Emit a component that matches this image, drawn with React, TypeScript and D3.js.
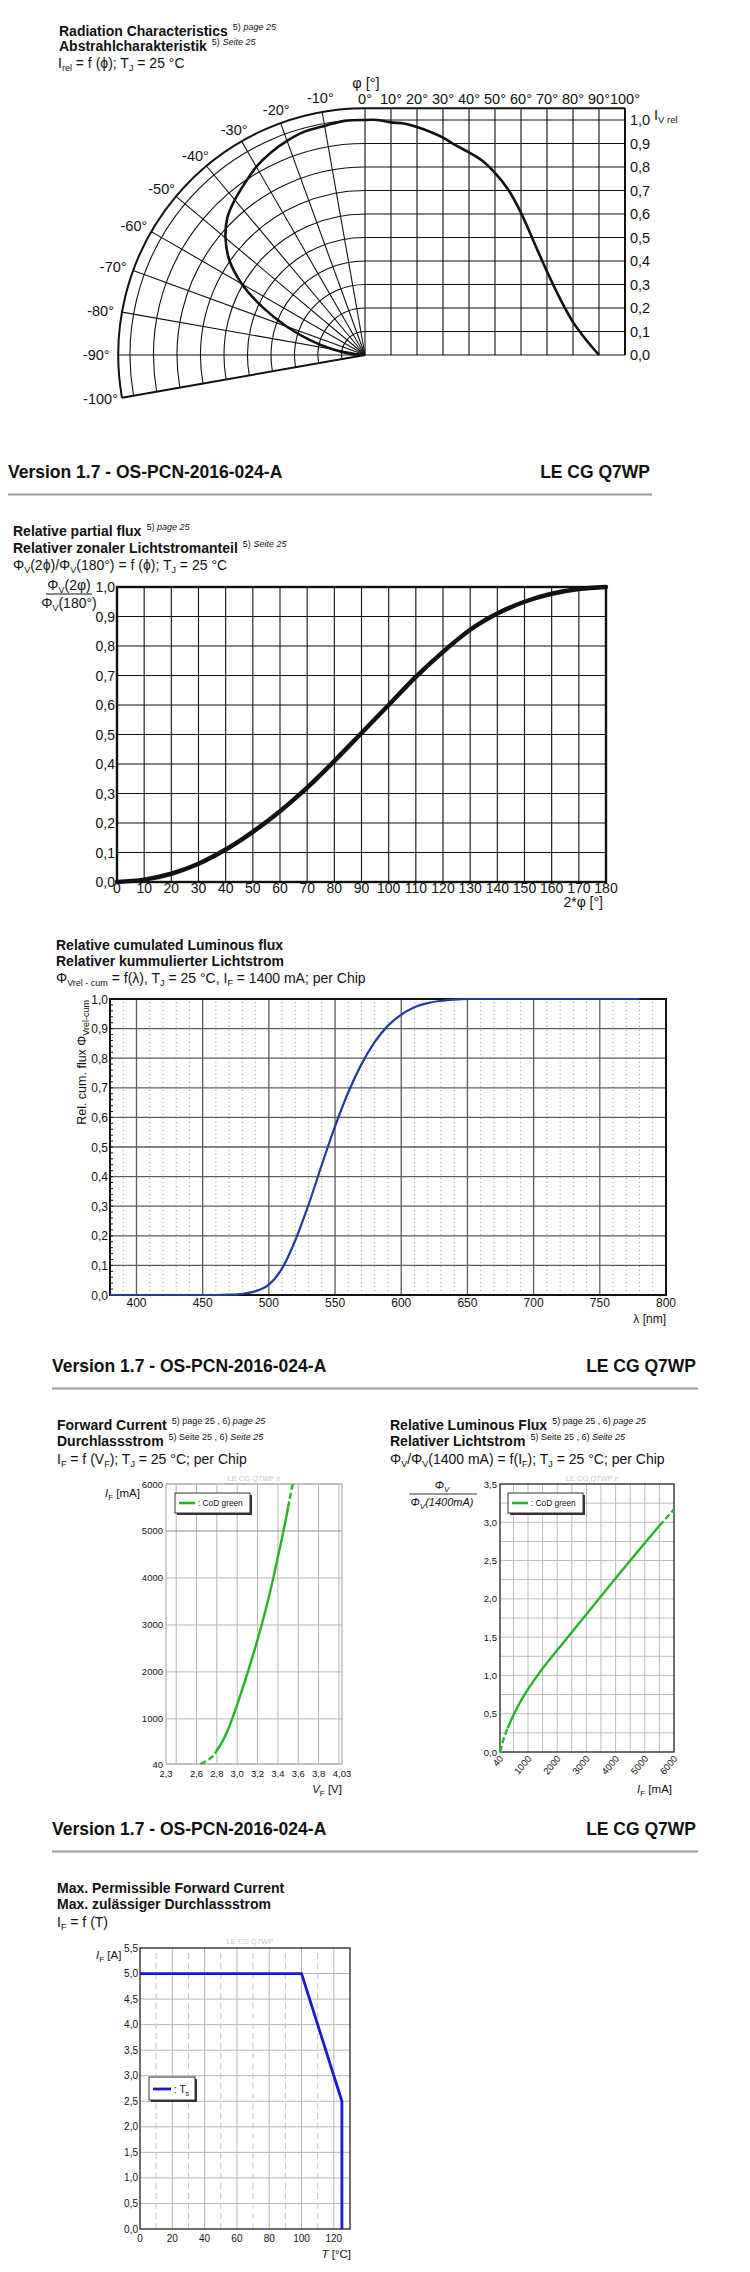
import * as d3 from "d3";

const SANS = "'Liberation Sans', Arial, Helvetica, sans-serif";
const NARROW = "'Liberation Sans Narrow', 'Arial Narrow', 'Liberation Sans', sans-serif";

// Radiation characteristics (same data drawn polar on the left, cartesian on the right)
const radAngle = [0, 5, 10, 15, 20, 25, 30, 35, 40, 45, 50, 55, 60, 65, 70, 75, 80, 85, 90];
const radIntensity = [1.0, 1.0, 0.99, 0.985, 0.97, 0.95, 0.925, 0.892, 0.862, 0.828, 0.775, 0.705, 0.605, 0.48, 0.355, 0.24, 0.14, 0.065, 0.0];
const radAngleTicks = [0, 10, 20, 30, 40, 50, 60, 70, 80, 90, 100];
const radPolarTicks = [10, 20, 30, 40, 50, 60, 70, 80, 90, 100];
const radLevels = [0, 0.1, 0.2, 0.3, 0.4, 0.5, 0.6, 0.7, 0.8, 0.9, 1.0];
const radOuter = 1.05;

// Relative partial flux
const fluxAngle = [0, 10, 20, 30, 40, 50, 60, 70, 80, 90, 100, 110, 120, 130, 140, 150, 160, 170, 180];
const fluxRatio = [0, 0.008, 0.028, 0.062, 0.11, 0.17, 0.24, 0.32, 0.41, 0.505, 0.6, 0.695, 0.78, 0.855, 0.91, 0.95, 0.977, 0.993, 1.0];
const fluxYTicks = [0, 0.1, 0.2, 0.3, 0.4, 0.5, 0.6, 0.7, 0.8, 0.9, 1.0];

// Relative cumulated luminous flux
const cumLambda = [380, 460, 470, 480, 490, 500, 510, 520, 530, 540, 550, 560, 570, 580, 590, 600, 610, 620, 630, 640, 650, 660, 700, 780];
const cumValue = [0, 0, 0.001, 0.004, 0.013, 0.035, 0.09, 0.185, 0.305, 0.44, 0.57, 0.685, 0.78, 0.855, 0.91, 0.947, 0.972, 0.986, 0.994, 0.998, 1, 1, 1, 1];
const cumXTicks = [400, 450, 500, 550, 600, 650, 700, 750, 800];
const cumYTicks = [0, 0.1, 0.2, 0.3, 0.4, 0.5, 0.6, 0.7, 0.8, 0.9, 1.0];

// Forward current
const vfCurrent = [40, 150, 300, 500, 750, 1000, 1500, 2000, 2500, 3000, 3500, 4000, 4500, 5000, 5500, 6000];
const vfVolt = [2.64, 2.73, 2.79, 2.85, 2.905, 2.95, 3.03, 3.105, 3.175, 3.24, 3.3, 3.355, 3.405, 3.455, 3.5, 3.545];
const vfXTicks = [2.3, 2.6, 2.8, 3.0, 3.2, 3.4, 3.6, 3.8, 4.03];
const vfXGrid = [2.4, 2.6, 2.8, 3.0, 3.2, 3.4, 3.6, 3.8, 4.0];
const vfYTicks = [40, 1000, 2000, 3000, 4000, 5000, 6000];

// Relative luminous flux
const lfCurrent = [40, 150, 300, 450, 700, 1000, 1400, 2000, 2500, 3000, 3500, 4000, 4500, 5000, 5500, 6000];
const lfRatio = [0.0, 0.15, 0.31, 0.44, 0.63, 0.82, 1.04, 1.33, 1.565, 1.8, 2.035, 2.27, 2.5, 2.73, 2.955, 3.17];
const lfXTicks = [40, 1000, 2000, 3000, 4000, 5000, 6000];
const lfXGrid = [500, 1000, 1500, 2000, 2500, 3000, 3500, 4000, 4500, 5000, 5500];
const lfYTicks = [0, 0.5, 1.0, 1.5, 2.0, 2.5, 3.0, 3.5];
const lfYGrid = [0.25, 0.5, 0.75, 1.0, 1.25, 1.5, 1.75, 2.0, 2.25, 2.5, 2.75, 3.0, 3.25];

// Max. permissible forward current
const tsTemp = [0, 100, 125, 125];
const tsCurrent = [5.0, 5.0, 2.5, 0];
const tsXTicks = [0, 20, 40, 60, 80, 100, 120];
const tsXDashed = [10, 30, 50, 70, 90, 110];
const tsYTicks = [0, 0.5, 1.0, 1.5, 2.0, 2.5, 3.0, 3.5, 4.0, 4.5, 5.0, 5.5];

const comma1 = (v: number) => d3.format(".1f")(v).replace(".", ",");
const comma2 = (v: number) => String(v).replace(".", ",");

function Sup({ a, b }: { a: string; b: string }) {
  return (
    <tspan dx={5} dy={-6} fontSize={9} fontWeight="normal">
      {a} <tspan fontStyle="italic">{b}</tspan>
    </tspan>
  );
}

function VersionBar({ x0, x1, y }: { x0: number; x1: number; y: number }) {
  return (
    <g fontFamily={SANS} fontWeight="bold" fontSize={17.5} fill="#111">
      <text x={x0} y={y}>Version 1.7 - OS-PCN-2016-024-A</text>
      <text x={x1} y={y} textAnchor="end">LE CG Q7WP</text>
      <line x1={x0} x2={x1 + 2} y1={y + 16.5} y2={y + 16.5} stroke="#9a9a9a" strokeWidth={2} />
    </g>
  );
}

function Radiation() {
  const cx = 365, cy = 355, unit = 235;
  const xs = d3.scaleLinear().domain([0, 100]).range([cx, cx + 260]);
  const ys = d3.scaleLinear().domain([0, 1]).range([cy, cy - unit]);
  const rs = d3.scaleLinear().domain([0, 1]).range([0, unit]);
  const R = rs(radOuter);
  const rad = (a: number) => (a * Math.PI) / 180;
  const polar = (a: number, r: number): [number, number] => [cx - r * Math.sin(rad(a)), cy - r * Math.cos(rad(a))];
  const arcPath = (r: number) => {
    const p = d3.path();
    const [sx, sy] = polar(0, r);
    p.moveTo(sx, sy);
    p.arc(cx, cy, r, -Math.PI / 2, -Math.PI / 2 - rad(100), true);
    return p.toString();
  };
  const polarCurve = d3
    .line<number>()
    .x((d, i) => polar(radAngle[i], rs(d))[0])
    .y((d, i) => polar(radAngle[i], rs(d))[1])
    .curve(d3.curveCatmullRom)(radIntensity);
  const cartCurve = d3
    .line<number>()
    .x((d, i) => xs(radAngle[i]))
    .y((d) => ys(d))
    .curve(d3.curveCatmullRom)(radIntensity);
  const top = cy - R;
  const [ex, ey] = polar(100, R);

  return (
    <g>
      <g fontFamily={SANS} fill="#111">
        <text x={59} y={36} fontWeight="bold" fontSize={14}>
          Radiation Characteristics<Sup a="5)" b="page 25" />
        </text>
        <text x={59} y={51} fontWeight="bold" fontSize={14}>
          Abstrahlcharakteristik<Sup a="5)" b="Seite 25" />
        </text>
        <text x={58} y={68} fontSize={14}>
          I<tspan dy={3} fontSize={9}>rel</tspan>
          <tspan dy={-3}> = f (ϕ); T</tspan>
          <tspan dy={3} fontSize={9}>J</tspan>
          <tspan dy={-3}> = 25 °C</tspan>
        </text>
      </g>
      <g stroke="#111" fill="none" strokeWidth={1.1}>
        {radLevels.slice(1).map((l) => (
          <path key={"a" + l} d={arcPath(rs(l))} />
        ))}
        {radPolarTicks.slice(0, -1).map((a) => {
          const [px, py] = polar(a, R);
          return <line key={"r" + a} x1={cx} y1={cy} x2={px} y2={py} />;
        })}
        {radLevels.map((l) => (
          <line key={"h" + l} x1={cx} x2={xs(100)} y1={ys(l)} y2={ys(l)} />
        ))}
        {radAngleTicks.slice(0, -1).map((a) => (
          <line key={"v" + a} x1={xs(a)} x2={xs(a)} y1={cy} y2={top} />
        ))}
      </g>
      <g stroke="#111" fill="none" strokeWidth={2}>
        <path d={arcPath(R)} />
        <line x1={cx} y1={cy} x2={ex} y2={ey} />
        <line x1={cx} x2={xs(100)} y1={top} y2={top} />
        <line x1={xs(100)} x2={xs(100)} y1={top} y2={cy} />
      </g>
      <path d={polarCurve ?? ""} fill="none" stroke="#111" strokeWidth={2.6} />
      <path d={cartCurve ?? ""} fill="none" stroke="#111" strokeWidth={2.6} />
      <g fontFamily={NARROW} fontSize={14.5} fill="#111">
        <text x={cx + 1} y={88} textAnchor="middle">φ [°]</text>
        {radAngleTicks.map((a) => (
          <text key={"t" + a} x={xs(a)} y={104} textAnchor="middle">{a}°</text>
        ))}
        {radLevels.map((l) => (
          <text key={"l" + l} x={xs(100) + 5} y={ys(l) + 5}>{comma1(l)}</text>
        ))}
        <text x={654} y={120}>
          I<tspan dy={3} fontSize={9.5}>V rel</tspan>
        </text>
        {radPolarTicks.map((a) => {
          const s = Math.sin(rad(a)), c = Math.cos(rad(a));
          const px = cx - (R + 8 + 14 * s) * s;
          const py = cy - (R + 8 + 6 * c) * c + 5;
          return (
            <text key={"p" + a} x={px} y={py} textAnchor="middle">-{a}°</text>
          );
        })}
      </g>
    </g>
  );
}

function PartialFlux() {
  const x = d3.scaleLinear().domain([0, 180]).range([117, 606]);
  const y = d3.scaleLinear().domain([0, 1]).range([882, 587]);
  const curve = d3
    .line<number>()
    .x((d, i) => x(fluxAngle[i]))
    .y((d) => y(d))
    .curve(d3.curveMonotoneX)(fluxRatio);
  return (
    <g>
      <g fontFamily={SANS} fill="#111" fontSize={14}>
        <text x={13} y={536} fontWeight="bold">
          Relative partial flux<Sup a="5)" b="page 25" />
        </text>
        <text x={13} y={553} fontWeight="bold">
          Relativer zonaler Lichtstromanteil<Sup a="5)" b="Seite 25" />
        </text>
        <text x={13} y={570}>
          Φ<tspan dy={3} fontSize={9}>V</tspan>
          <tspan dy={-3}>(2ϕ)/Φ</tspan>
          <tspan dy={3} fontSize={9}>V</tspan>
          <tspan dy={-3}>(180°) = f (ϕ); T</tspan>
          <tspan dy={3} fontSize={9}>J</tspan>
          <tspan dy={-3}> = 25 °C</tspan>
        </text>
      </g>
      <g stroke="#111" strokeWidth={1.1}>
        {fluxAngle.map((a) => (
          <line key={"v" + a} x1={x(a)} x2={x(a)} y1={y(0)} y2={y(1)} />
        ))}
        {fluxYTicks.map((v) => (
          <line key={"h" + v} x1={x(0)} x2={x(180)} y1={y(v)} y2={y(v)} />
        ))}
      </g>
      <rect x={x(0)} y={y(1)} width={x(180) - x(0)} height={y(0) - y(1)} fill="none" stroke="#111" strokeWidth={2.4} />
      <path d={curve ?? ""} fill="none" stroke="#111" strokeWidth={4.5} strokeLinecap="round" />
      <g fontFamily={NARROW} fontSize={14} fill="#111">
        {fluxAngle.map((a) => (
          <text key={"xt" + a} x={x(a)} y={893} textAnchor="middle">{a}</text>
        ))}
        {fluxYTicks.map((v) => (
          <text key={"yt" + v} x={115} y={y(v) + 5} textAnchor="end">{comma1(v)}</text>
        ))}
        <text x={603} y={907} textAnchor="end">2*φ [°]</text>
        <text x={69} y={590} textAnchor="middle">
          Φ<tspan dy={3} fontSize={9}>V</tspan>
          <tspan dy={-3}>(2φ)</tspan>
        </text>
        <line x1={46} x2={92} y1={594} y2={594} stroke="#111" strokeWidth={1} />
        <text x={69} y={608} textAnchor="middle">
          Φ<tspan dy={3} fontSize={9}>V</tspan>
          <tspan dy={-3}>(180°)</tspan>
        </text>
      </g>
    </g>
  );
}

function Cumulated() {
  const x = d3.scaleLinear().domain([380, 800]).range([110, 666]);
  const y = d3.scaleLinear().domain([0, 1]).range([1295, 999]);
  const curve = d3
    .line<number>()
    .x((d, i) => x(cumLambda[i]))
    .y((d) => y(d))
    .curve(d3.curveMonotoneX)(cumValue);
  const minor = d3.range(390, 800, 10).filter((v) => v % 50 !== 0);
  const minorY = d3.range(0.02, 1, 0.02);
  return (
    <g>
      <g fontFamily={SANS} fill="#111" fontSize={14}>
        <text x={56} y={950} fontWeight="bold">Relative cumulated Luminous flux</text>
        <text x={56} y={966} fontWeight="bold">Relativer kummulierter Lichtstrom</text>
        <text x={56} y={983}>
          Φ<tspan dy={3} fontSize={9}>Vrel - cum</tspan>
          <tspan dy={-3}> = f(λ), T</tspan>
          <tspan dy={3} fontSize={9}>J</tspan>
          <tspan dy={-3}> = 25 °C, I</tspan>
          <tspan dy={3} fontSize={9}>F</tspan>
          <tspan dy={-3}> = 1400 mA; per Chip</tspan>
        </text>
      </g>
      <g stroke="#9a9a9a" strokeWidth={1} strokeDasharray="1 3">
        {minor.map((v) => (
          <line key={"m" + v} x1={x(v)} x2={x(v)} y1={y(0)} y2={y(1)} />
        ))}
      </g>
      <g stroke="#5c5c5c" strokeWidth={1.3}>
        {cumXTicks.slice(0, -1).map((v) => (
          <line key={"v" + v} x1={x(v)} x2={x(v)} y1={y(0)} y2={y(1)} />
        ))}
        {cumYTicks.map((v) => (
          <line key={"h" + v} x1={x(380)} x2={x(800)} y1={y(v)} y2={y(v)} />
        ))}
      </g>
      <g stroke="#111" strokeWidth={1}>
        {minorY.map((v) => (
          <line key={"t" + v} x1={x(380)} x2={x(380) + 3} y1={y(v)} y2={y(v)} />
        ))}
      </g>
      <rect x={x(380)} y={y(1)} width={x(800) - x(380)} height={y(0) - y(1)} fill="none" stroke="#111" strokeWidth={2} />
      <path d={curve ?? ""} fill="none" stroke="#1f3d99" strokeWidth={2.2} />
      <g fontFamily={SANS} fontSize={12} fill="#111">
        {cumXTicks.map((v) => (
          <text key={"xt" + v} x={x(v)} y={1307} textAnchor="middle">{v}</text>
        ))}
        {cumYTicks.map((v) => (
          <text key={"yt" + v} x={108} y={y(v) + 4.5} textAnchor="end">{comma1(v)}</text>
        ))}
        <text x={666} y={1323} textAnchor="end">λ [nm]</text>
        <text transform="translate(86,1000) rotate(-90)" textAnchor="end" fontSize={12.5}>
          Rel. cum. flux Φ<tspan dy={3} fontSize={9}>Vrel-cum</tspan>
        </text>
      </g>
    </g>
  );
}

function Legend({ x, y, w, color, label }: { x: number; y: number; w: number; color: string; label: string }) {
  return (
    <g>
      <rect x={x + 2} y={y + 2} width={w} height={20} fill="#333" />
      <rect x={x} y={y} width={w} height={20} fill="#fff" stroke="#333" strokeWidth={1} />
      <line x1={x + 4} x2={x + 20} y1={y + 10} y2={y + 10} stroke={color} strokeWidth={2.6} />
      <text x={x + 23} y={y + 13} fontFamily={SANS} fontSize={8.3} fill="#111">{label}</text>
    </g>
  );
}

function ForwardCurrent() {
  const x = d3.scaleLinear().domain([2.3, 4.03]).range([166, 342]);
  const y = d3.scaleLinear().domain([40, 6000]).range([1764, 1484]);
  const line = d3
    .line<[number, number]>()
    .x((d) => x(d[0]))
    .y((d) => y(d[1]))
    .curve(d3.curveMonotoneY);
  const pts: [number, number][] = vfVolt.map((v, i) => [v, vfCurrent[i]]);
  const green = "#23b523";
  return (
    <g>
      <g fontFamily={SANS} fill="#111" fontSize={14}>
        <text x={57} y={1430} fontWeight="bold">
          Forward Current<Sup a="5) page 25 , 6)" b="page 25" />
        </text>
        <text x={57} y={1446} fontWeight="bold">
          Durchlassstrom<Sup a="5) Seite 25 , 6)" b="Seite 25" />
        </text>
        <text x={57} y={1464}>
          I<tspan dy={3} fontSize={9}>F</tspan>
          <tspan dy={-3}> = f (V</tspan>
          <tspan dy={3} fontSize={9}>F</tspan>
          <tspan dy={-3}>); T</tspan>
          <tspan dy={3} fontSize={9}>J</tspan>
          <tspan dy={-3}> = 25 °C; per Chip</tspan>
        </text>
      </g>
      <g stroke="#b5b5b5" strokeWidth={1}>
        {vfXGrid.map((v) => (
          <line key={"v" + v} x1={x(v)} x2={x(v)} y1={y(40)} y2={y(6000)} />
        ))}
        {vfYTicks.map((v) => (
          <line key={"h" + v} x1={x(2.3)} x2={x(4.03)} y1={y(v)} y2={y(v)} stroke={v === 5000 ? "#8a8a8a" : "#b5b5b5"} />
        ))}
      </g>
      <rect x={x(2.3)} y={y(6000)} width={x(4.03) - x(2.3)} height={y(40) - y(6000)} fill="none" stroke="#b0b0b0" strokeWidth={1.2} />
      <text x={x(3.165)} y={1481} textAnchor="middle" fontFamily={SANS} fontSize={7.5} fill="#c8c8c8">LE CG Q7WP n</text>
      <path d={line(pts.slice(2, 15)) ?? ""} fill="none" stroke={green} strokeWidth={2.4} />
      <path d={line(pts.slice(0, 3)) ?? ""} fill="none" stroke={green} strokeWidth={2.4} strokeDasharray="6 3" />
      <path d={line(pts.slice(14)) ?? ""} fill="none" stroke={green} strokeWidth={2.4} strokeDasharray="6 3" />
      <Legend x={175} y={1493} w={75} color={green} label=": CoD green" />
      <g fontFamily={SANS} fontSize={9.5} fill="#111">
        {vfYTicks.map((v) => (
          <text key={"yt" + v} x={163} y={y(v) + 3.5} textAnchor="end">{v}</text>
        ))}
        {vfXTicks.map((v) => (
          <text key={"xt" + v} x={x(v)} y={1777} textAnchor="middle">{v === 4.03 ? "4,03" : comma1(v)}</text>
        ))}
        <text x={342} y={1793} textAnchor="end" fontSize={11.5}>
          <tspan fontStyle="italic">V</tspan>
          <tspan dy={3} fontSize={8}>F</tspan>
          <tspan dy={-3}> [V]</tspan>
        </text>
        <text x={105} y={1497} fontSize={11.5}>
          <tspan fontStyle="italic">I</tspan>
          <tspan dy={3} fontSize={8}>F</tspan>
          <tspan dy={-3}> [mA]</tspan>
        </text>
      </g>
    </g>
  );
}

function LuminousFlux() {
  const x = d3.scaleLinear().domain([40, 6000]).range([500, 674]);
  const y = d3.scaleLinear().domain([0, 3.5]).range([1752, 1484]);
  const line = d3
    .line<[number, number]>()
    .x((d) => x(d[0]))
    .y((d) => y(d[1]))
    .curve(d3.curveMonotoneX);
  const pts: [number, number][] = lfCurrent.map((v, i) => [v, lfRatio[i]]);
  const green = "#23b523";
  return (
    <g>
      <g fontFamily={SANS} fill="#111" fontSize={14}>
        <text x={390} y={1430} fontWeight="bold">
          Relative Luminous Flux<Sup a="5) page 25 , 6)" b="page 25" />
        </text>
        <text x={390} y={1446} fontWeight="bold">
          Relativer Lichtstrom<Sup a="5) Seite 25 , 6)" b="Seite 25" />
        </text>
        <text x={390} y={1464}>
          Φ<tspan dy={3} fontSize={9}>V</tspan>
          <tspan dy={-3}>/Φ</tspan>
          <tspan dy={3} fontSize={9}>V</tspan>
          <tspan dy={-3}>(1400 mA) = f(I</tspan>
          <tspan dy={3} fontSize={9}>F</tspan>
          <tspan dy={-3}>); T</tspan>
          <tspan dy={3} fontSize={9}>J</tspan>
          <tspan dy={-3}> = 25 °C; per Chip</tspan>
        </text>
      </g>
      <g stroke="#bdbdbd" strokeWidth={1}>
        {lfXGrid.map((v) => (
          <line key={"v" + v} x1={x(v)} x2={x(v)} y1={y(0)} y2={y(3.5)} />
        ))}
        {lfYGrid.map((v) => (
          <line key={"h" + v} x1={x(40)} x2={x(6000)} y1={y(v)} y2={y(v)} />
        ))}
      </g>
      <rect x={x(40)} y={y(3.5)} width={x(6000) - x(40)} height={y(0) - y(3.5)} fill="none" stroke="#222" strokeWidth={1.3} />
      <text x={x(3200)} y={1481} textAnchor="middle" fontFamily={SANS} fontSize={7.5} fill="#c8c8c8">LE CG Q7WP n</text>
      <path d={line(pts.slice(2, 15)) ?? ""} fill="none" stroke={green} strokeWidth={2.4} />
      <path d={line(pts.slice(0, 3)) ?? ""} fill="none" stroke={green} strokeWidth={2.4} strokeDasharray="6 3" />
      <path d={line(pts.slice(14)) ?? ""} fill="none" stroke={green} strokeWidth={2.4} strokeDasharray="6 3" />
      <Legend x={508} y={1493} w={75} color={green} label=": CoD green" />
      <g fontFamily={SANS} fontSize={9.5} fill="#111">
        {lfYTicks.map((v) => (
          <text key={"yt" + v} x={497} y={y(v) + 3.5} textAnchor="end">{comma1(v)}</text>
        ))}
        {lfXTicks.map((v) => (
          <text key={"xt" + v} transform={`translate(${x(v) + 4},${1759}) rotate(-50)`} textAnchor="end">{v}</text>
        ))}
        <text x={672} y={1793} textAnchor="end" fontSize={11.5}>
          <tspan fontStyle="italic">I</tspan>
          <tspan dy={3} fontSize={8}>F</tspan>
          <tspan dy={-3}> [mA]</tspan>
        </text>
        <text x={442} y={1489} textAnchor="middle" fontSize={11} fontStyle="italic">
          Φ<tspan dy={3} fontSize={8}>V</tspan>
        </text>
        <line x1={409} x2={477} y1={1494} y2={1494} stroke="#333" strokeWidth={1} />
        <text x={442} y={1506} textAnchor="middle" fontSize={11} fontStyle="italic">
          Φ<tspan dy={3} fontSize={8}>V</tspan>
          <tspan dy={-3}>(1400mA)</tspan>
        </text>
      </g>
    </g>
  );
}

function MaxCurrent() {
  const x = d3.scaleLinear().domain([0, 130]).range([140, 350]);
  const y = d3.scaleLinear().domain([0, 5.5]).range([2229, 1948]);
  const path = d3
    .line<number>()
    .x((d, i) => x(tsTemp[i]))
    .y((d) => y(d))(tsCurrent);
  const blue = "#1a1ad0";
  return (
    <g>
      <g fontFamily={SANS} fill="#111" fontSize={14}>
        <text x={57} y={1893} fontWeight="bold">Max. Permissible Forward Current</text>
        <text x={57} y={1909} fontWeight="bold">Max. zulässiger Durchlassstrom</text>
        <text x={57} y={1927}>
          I<tspan dy={3} fontSize={9}>F</tspan>
          <tspan dy={-3}> = f (T)</tspan>
        </text>
      </g>
      <g stroke="#b5b5b5" strokeWidth={1}>
        {tsXTicks.slice(1).map((v) => (
          <line key={"v" + v} x1={x(v)} x2={x(v)} y1={y(0)} y2={y(5.5)} />
        ))}
        {tsYTicks.slice(1, -1).map((v) => (
          <line key={"h" + v} x1={x(0)} x2={x(130)} y1={y(v)} y2={y(v)} />
        ))}
      </g>
      <g stroke="#c4c4c4" strokeWidth={1} strokeDasharray="6 4">
        {tsXDashed.map((v) => (
          <line key={"d" + v} x1={x(v)} x2={x(v)} y1={y(0)} y2={y(5.5)} />
        ))}
      </g>
      <rect x={x(0)} y={y(5.5)} width={x(130) - x(0)} height={y(0) - y(5.5)} fill="none" stroke="#222" strokeWidth={1.3} />
      <text x={x(68)} y={1944} textAnchor="middle" fontFamily={SANS} fontSize={7.5} fill="#c8c8c8">LE CG Q7WP</text>
      <path d={path ?? ""} fill="none" stroke={blue} strokeWidth={2.8} />
      <g>
        <rect x={151} y={2079} width={46} height={23} fill="#333" />
        <rect x={149} y={2077} width={46} height={23} fill="#fff" stroke="#333" strokeWidth={1} />
        <line x1={153} x2={171} y1={2089} y2={2089} stroke={blue} strokeWidth={2.8} />
        <text x={174} y={2093} fontFamily={SANS} fontSize={10} fill="#111">
          : T<tspan dy={3} fontSize={7}>s</tspan>
        </text>
      </g>
      <g fontFamily={SANS} fontSize={10} fill="#111">
        {tsYTicks.map((v) => (
          <text key={"yt" + v} x={138} y={y(v) + 3.5} textAnchor="end">{comma1(v)}</text>
        ))}
        {tsXTicks.map((v) => (
          <text key={"xt" + v} x={x(v)} y={2242} textAnchor="middle">{comma2(v)}</text>
        ))}
        <text x={351} y={2258} textAnchor="end" fontSize={11.5}>
          <tspan fontStyle="italic">T</tspan> [°C]
        </text>
        <text x={96} y={1959} fontSize={11.5}>
          <tspan fontStyle="italic">I</tspan>
          <tspan dy={3} fontSize={8}>F</tspan>
          <tspan dy={-3}> [A]</tspan>
        </text>
      </g>
    </g>
  );
}

export default function App() {
  return (
    <div>
      <style>{`body{margin:0;background:#fff}`}</style>
      <svg width={750} height={2272} viewBox="0 0 750 2272" style={{ display: "block", background: "#fff" }}>
        <Radiation />
        <VersionBar x0={8} x1={650} y={478} />
        <PartialFlux />
        <Cumulated />
        <VersionBar x0={52} x1={696} y={1372} />
        <ForwardCurrent />
        <LuminousFlux />
        <VersionBar x0={52} x1={696} y={1835} />
        <MaxCurrent />
      </svg>
    </div>
  );
}
